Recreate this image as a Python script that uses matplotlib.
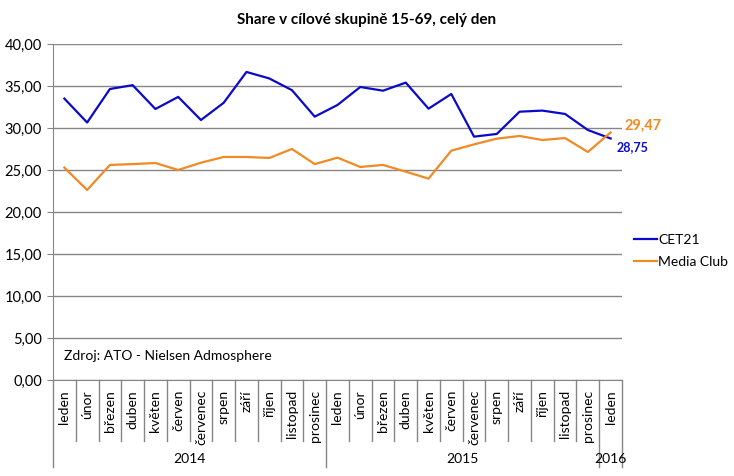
import matplotlib.pyplot as plt
import matplotlib.transforms as mtransforms
import numpy as np

months = ['leden', 'únor', 'březen', 'duben', 'květen', 'červen', 'červenec',
          'srpen', 'září', 'říjen', 'listopad', 'prosinec'] * 2 + ['leden']
years = ['2014', '2015', '2016']
year_counts = [12, 12, 1]

cet21 = [33.5, 30.65, 34.64, 35.1, 32.26, 33.7, 30.95, 33.0, 36.67, 35.9, 34.5, 31.35,
         32.74, 34.88, 34.44, 35.4, 32.3, 34.05, 28.97, 29.29, 31.94, 32.07, 31.67, 29.76, 28.75]
media_club = [25.28, 22.62, 25.6, 25.7, 25.83, 25.0, 25.87, 26.55, 26.55, 26.43, 27.5, 25.7,
              26.47, 25.36, 25.6, 24.8, 23.97, 27.3, 28.05, 28.73, 29.05, 28.57, 28.8, 27.14, 29.47]

blue = '#0a0ac8'
orange = '#f08a24'
grey = '#868686'
plt.rcParams['font.family'] = ['Lato', 'DejaVu Sans']

fig = plt.figure(figsize=(7.34, 4.76), dpi=100)
ax = fig.add_axes([0.0722, 0.2017, 0.7752, 0.7059])

x = np.arange(len(months))
ax.plot(x, cet21, color=blue, lw=1.6, label='CET21')
ax.plot(x, media_club, color=orange, lw=1.6, label='Media Club')

ax.set_xlim(-0.5, len(months) - 0.5)
ax.set_ylim(0, 40)
ax.set_yticks(np.arange(0, 41, 5))
ax.set_yticklabels([f'{v:.2f}'.replace('.', ',') for v in np.arange(0, 41, 5)], fontsize=10.5)
ax.yaxis.grid(True, color=grey, lw=1)
ax.set_axisbelow(True)
for s in ['top', 'right']:
    ax.spines[s].set_visible(False)
ax.spines['left'].set_color(grey)
ax.spines['bottom'].set_color(grey)
ax.tick_params(axis='y', length=4, color=grey, pad=4)
ax.set_xticks([])

trans = mtransforms.blended_transform_factory(ax.transData, ax.transAxes)
# month separators and labels
for i, m in enumerate(months):
    ax.text(i, -0.03, m, rotation=90, ha='center', va='top', fontsize=10,
            transform=trans)
bounds = np.cumsum([0] + year_counts) - 0.5
for b in np.arange(-0.5, len(months)):
    low = -0.259 if b in bounds else -0.1815
    ax.plot([b, b], [0, low], color=grey, lw=1, transform=trans, clip_on=False)
for j, y in enumerate(years):
    ax.text((bounds[j] + bounds[j + 1]) / 2, -0.235, y, ha='center', va='center',
            fontsize=10, transform=trans)

ax.text(0, 2.2, 'Zdroj: ATO - Nielsen Admosphere', fontsize=10, ha='left', va='bottom')

ax.annotate(f'{media_club[-1]:.2f}'.replace('.', ','), (x[-1], media_club[-1]),
            xytext=(10, 0), textcoords='offset points', color=orange,
            fontsize=10.5, fontweight='bold', va='bottom', ha='left')
ax.annotate(f'{cet21[-1]:.2f}'.replace('.', ','), (x[-1], cet21[-1]),
            xytext=(4, -2), textcoords='offset points', color=blue,
            fontsize=9, fontweight='bold', va='top', ha='left')

fig.suptitle('Share v cílové skupině 15-69, celý den', x=0.5, y=0.972,
             fontsize=11, fontweight='bold')
ax.legend(loc='center left', bbox_to_anchor=(1.0, 0.384), frameon=False, fontsize=10,
          handlelength=1.6, handletextpad=0.1, labelspacing=0.75)

fig.savefig('out.png', dpi=100)
